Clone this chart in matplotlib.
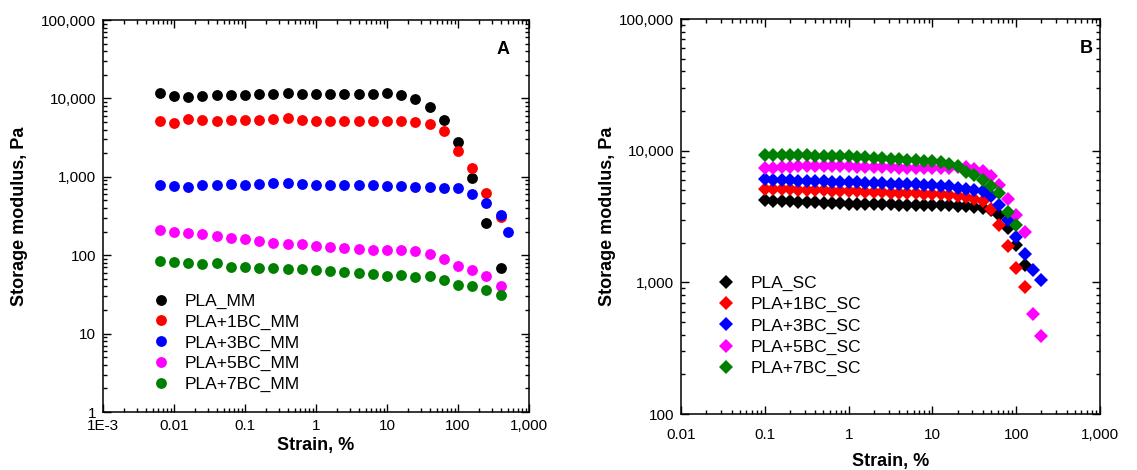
import matplotlib
matplotlib.use("Agg")
import matplotlib.pyplot as plt
from matplotlib.ticker import LogLocator, NullFormatter, FixedLocator, FixedFormatter

plt.rcParams['font.family'] = ['Liberation Sans', 'DejaVu Sans']

# --- Panel A data (MM samples) ---
strain_mm = [0.0063, 0.01, 0.0158, 0.0251, 0.0398, 0.0631, 0.1, 0.158, 0.251, 0.398,
             0.631, 1, 1.58, 2.51, 3.98, 6.31, 10, 15.8, 25.1, 39.8,
             63.1, 100, 158, 251, 398, 501]
pla_mm = [11650, 10760, 10540, 10860, 11080, 10990, 11080, 11420, 11520, 11650,
          11420, 11420, 11520, 11520, 11520, 11520, 11650, 11080, 9770, 7710,
          5310, 2750, 954, 254, 68.6]
pla1_mm = [5200, 4910, 5470, 5310, 5160, 5260, 5310, 5310, 5470, 5580,
           5310, 5200, 5200, 5200, 5200, 5200, 5200, 5160, 5050, 4720,
           3870, 2150, 1280, 624, 303]
pla3_mm = [783, 754, 738, 776, 776, 800, 791, 800, 824, 830,
           807, 783, 776, 776, 776, 776, 768, 760, 745, 731,
           723, 711, 596, 457, 330, 195]
pla5_mm = [208, 198, 192, 185, 176, 168, 161, 152, 145, 141,
           137, 133, 127, 124, 120, 118, 116, 116, 112, 103,
           89, 73, 64, 55, 40]
pla7_mm = [84.3, 81, 79.4, 78.2, 78.8, 70.6, 70, 68.6, 67.9, 67.4,
           66.1, 64.1, 62.2, 60.4, 59.2, 57, 53.7, 56.4, 52.6, 53.7,
           47.8, 42, 40.8, 35.6, 30.7]

# --- Panel B data (SC samples) ---
strain_sc = [0.1, 0.126, 0.158, 0.2, 0.251, 0.316, 0.398, 0.501, 0.631, 0.794,
             1, 1.26, 1.58, 2, 2.51, 3.16, 3.98, 5.01, 6.31, 7.94,
             10, 12.6, 15.8, 20, 25.1, 31.6, 39.8, 50.1, 63.1, 79.4,
             100, 126, 158, 200]
pla_sc = [4200, 4180, 4150, 4120, 4100, 4080, 4050, 4030, 4000, 3980,
          3960, 3950, 3940, 3930, 3920, 3910, 3900, 3900, 3900, 3900,
          3900, 3900, 3890, 3820, 3780, 3730, 3670, 3560, 3270, 2590,
          1930, 1360]
pla1_sc = [5150, 5120, 5100, 5080, 5060, 5040, 5020, 5000, 4980, 4960,
           4940, 4910, 4880, 4850, 4820, 4800, 4780, 4760, 4740, 4720,
           4700, 4670, 4630, 4560, 4450, 4300, 4120, 3610, 2740, 1880,
           1285, 922]
pla3_sc = [6050, 6000, 5980, 5950, 5920, 5900, 5870, 5850, 5820, 5800,
           5770, 5740, 5720, 5690, 5660, 5630, 5600, 5570, 5540, 5500,
           5460, 5420, 5360, 5210, 5130, 5060, 4910, 4500, 3890, 2960,
           2210, 1640, 1250, 1047]
pla5_sc = [7400, 7450, 7500, 7550, 7600, 7620, 7650, 7650, 7650, 7620,
           7600, 7580, 7550, 7520, 7500, 7480, 7450, 7420, 7400, 7380,
           7380, 7400, 7450, 7550, 7500, 7260, 6960, 6460, 5520, 4300,
           3270, 2420, 578, 389]
pla7_sc = [9300, 9300, 9280, 9250, 9230, 9200, 9180, 9150, 9120, 9090,
           9050, 9000, 8950, 8880, 8800, 8720, 8640, 8560, 8480, 8400,
           8300, 8180, 7970, 7600, 6880, 6580, 6030, 5420, 4780, 3440,
           2740]

colors = ['black', '#FF0000', '#0000FF', '#FF00FF', '#008000']
labels_mm = ['PLA_MM', 'PLA+1BC_MM', 'PLA+3BC_MM', 'PLA+5BC_MM', 'PLA+7BC_MM']
labels_sc = ['PLA_SC', 'PLA+1BC_SC', 'PLA+3BC_SC', 'PLA+5BC_SC', 'PLA+7BC_SC']

fig = plt.figure(figsize=(11.37, 4.70), dpi=100)
axA = fig.add_axes([0.0906, 0.1234, 0.3747, 0.834])
axB = fig.add_axes([0.599, 0.119, 0.3685, 0.8405])

# Panel A
for ys, c, lab in zip([pla_mm, pla1_mm, pla3_mm, pla5_mm, pla7_mm], colors, labels_mm):
    axA.plot(strain_mm[:len(ys)], ys, 'o', color=c, ms=7.8, mew=0, label=lab)

# Panel B
for ys, c, lab in zip([pla_sc, pla1_sc, pla3_sc, pla5_sc, pla7_sc], colors, labels_sc):
    axB.plot(strain_sc[:len(ys)], ys, 'D', color=c, ms=7.6, mew=0, label=lab)


def style_axis(ax, xlim, ylim, xticks, xlabels, yticks, ylabels, letter, lx, xtpad, xpad, ypad):
    ax.set_xscale('log')
    ax.set_yscale('log')
    ax.set_xlim(*xlim)
    ax.set_ylim(*ylim)
    ax.xaxis.set_major_locator(FixedLocator(xticks))
    ax.xaxis.set_major_formatter(FixedFormatter(xlabels))
    ax.yaxis.set_major_locator(FixedLocator(yticks))
    ax.yaxis.set_major_formatter(FixedFormatter(ylabels))
    ax.xaxis.set_minor_locator(LogLocator(base=10, subs=range(2, 10), numticks=20))
    ax.yaxis.set_minor_locator(LogLocator(base=10, subs=range(2, 10), numticks=20))
    ax.xaxis.set_minor_formatter(NullFormatter())
    ax.yaxis.set_minor_formatter(NullFormatter())
    ax.tick_params(which='both', direction='in', top=True, right=True, labelsize=11, width=1)
    ax.tick_params(which='major', length=6, pad=5)
    ax.tick_params(axis='x', which='major', pad=xtpad)
    ax.tick_params(which='minor', length=3)
    for s in ax.spines.values():
        s.set_linewidth(1.1)
    ax.set_xlabel('Strain, %', fontsize=13, fontweight='bold', labelpad=xpad)
    ax.set_ylabel('Storage modulus, Pa', fontsize=13, fontweight='bold', labelpad=ypad)
    ax.text(lx, 0.925, letter, transform=ax.transAxes, fontsize=13,
            fontweight='bold', ha='center', va='center')


style_axis(axA, (0.001, 1000), (1, 100000),
           [0.001, 0.01, 0.1, 1, 10, 100, 1000],
           ['1E-3', '0.01', '0.1', '1', '10', '100', '1,000'],
           [1, 10, 100, 1000, 10000, 100000],
           ['1', '10', '100', '1,000', '10,000', '100,000'], 'A', 0.94, 5, 3, 9)
style_axis(axB, (0.01, 1000), (100, 100000),
           [0.01, 0.1, 1, 10, 100, 1000],
           ['0.01', '0.1', '1', '10', '100', '1,000'],
           [100, 1000, 10000, 100000],
           ['100', '1,000', '10,000', '100,000'], 'B', 0.968, 10, 8, 2)

axA.legend(loc='upper left', bbox_to_anchor=(0.078, 0.342), frameon=False, fontsize=12.5,
           handlelength=1.0, handletextpad=0.9, labelspacing=0.32, borderpad=0.4)
axB.legend(loc='upper left', bbox_to_anchor=(0.05, 0.39), frameon=False, fontsize=12.5,
           handlelength=1.0, handletextpad=0.9, labelspacing=0.35, borderpad=0.4)

fig.savefig('out.png', dpi=100)
